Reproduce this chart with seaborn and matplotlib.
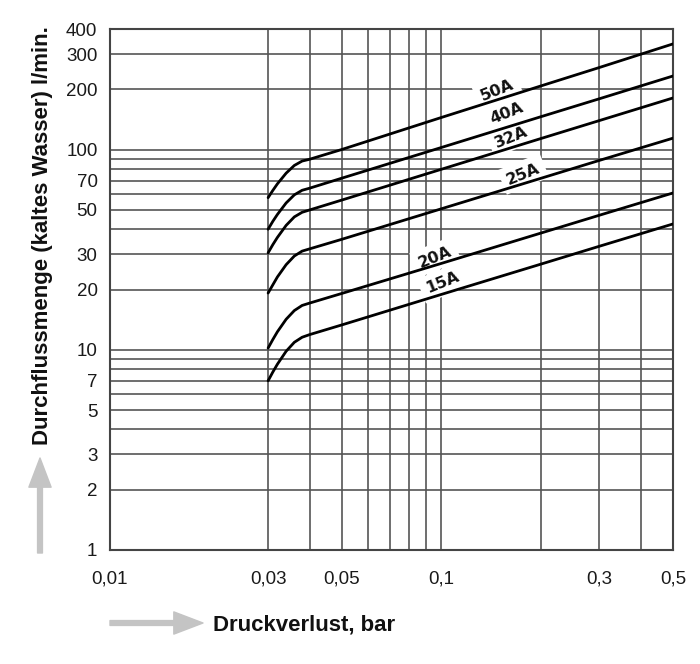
import numpy as np
import pandas as pd
import matplotlib
matplotlib.use("Agg")
import matplotlib.pyplot as plt
import seaborn as sns
from matplotlib.ticker import FixedLocator, FixedFormatter, NullFormatter

# ---------------- data ----------------
pressure = [0.030, 0.031, 0.032, 0.034, 0.036, 0.038, 0.040, 0.05, 0.1, 0.2, 0.3, 0.5]
flow_50A = [57.5, 62.5, 67.4, 76.2, 83.3, 87.6, 89.4, 100.0, 144.6, 208.0, 257.0, 337.0]
flow_40A = [40.0, 43.8, 47.4, 54.1, 59.4, 62.6, 64.1, 71.9, 102.4, 146.0, 179.4, 233.0]
flow_32A = [30.5, 33.5, 36.4, 41.8, 46.1, 48.6, 49.9, 55.9, 79.7, 113.6, 139.6, 181.0]
flow_25A = [19.2, 21.1, 23.1, 26.6, 29.4, 31.1, 31.9, 35.6, 50.6, 71.9, 88.3, 114.0]
flow_20A = [10.2, 11.25, 12.3, 14.2, 15.7, 16.65, 17.1, 19.1, 27.0, 38.3, 47.0, 60.7]
flow_15A = [7.0, 7.74, 8.47, 9.83, 10.9, 11.55, 11.9, 13.3, 18.9, 26.8, 32.9, 42.5]

series_names = ["50A", "40A", "32A", "25A", "20A", "15A"]
series_values = [flow_50A, flow_40A, flow_32A, flow_25A, flow_20A, flow_15A]

x_tick_values = [0.01, 0.03, 0.05, 0.1, 0.3, 0.5]
x_tick_labels = ["0,01", "0,03", "0,05", "0,1", "0,3", "0,5"]
x_grid_values = [0.03, 0.04, 0.05, 0.06, 0.07, 0.08, 0.09, 0.1, 0.2, 0.3, 0.4]

y_tick_values = [1, 2, 3, 5, 7, 10, 20, 30, 50, 70, 100, 200, 300, 400]
y_tick_labels = ["1", "2", "3", "5", "7", "10", "20", "30", "50", "70", "100", "200", "300", "400"]
y_grid_values = [2, 3, 4, 5, 6, 7, 8, 9, 10, 20, 30, 40, 50, 60, 70, 80, 90, 100, 200, 300]

# label anchor positions (data coords) for curve names
label_x = [0.1475, 0.157, 0.1625, 0.1766, 0.0959, 0.1007]
label_y = [198.5, 152.3, 115.6, 75.5, 29.1, 21.6]

x_label = "Druckverlust, bar"
y_label = "Durchflussmenge (kaltes Wasser) l/min."

# ---------------- build long-form table ----------------
rows = []
for name, vals in zip(series_names, series_values):
    for p, q in zip(pressure, vals):
        rows.append({"Druckverlust": p, "Durchfluss": q, "Größe": name})
df = pd.DataFrame(rows)

sns.set_theme(style="white")
plt.rcParams["font.family"] = ["Liberation Sans", "DejaVu Sans"]

fig = plt.figure(figsize=(7.0, 6.64), dpi=100)
ax = fig.add_axes([110 / 700, 1 - 550 / 664, (673 - 110) / 700, (550 - 29) / 664])

sns.lineplot(data=df, x="Druckverlust", y="Durchfluss", hue="Größe",
             palette=["black"] * len(series_names), legend=False,
             linewidth=2.0, ax=ax, zorder=5, sort=False, estimator=None)

ax.set_xscale("log")
ax.set_yscale("log")
ax.set_xlim(0.01, 0.5)
ax.set_ylim(1, 400)

ax.xaxis.set_major_locator(FixedLocator(x_tick_values))
ax.xaxis.set_major_formatter(FixedFormatter(x_tick_labels))
ax.xaxis.set_minor_locator(FixedLocator(x_grid_values))
ax.xaxis.set_minor_formatter(NullFormatter())
ax.yaxis.set_major_locator(FixedLocator(y_tick_values))
ax.yaxis.set_major_formatter(FixedFormatter(y_tick_labels))
ax.yaxis.set_minor_locator(FixedLocator(y_grid_values))
ax.yaxis.set_minor_formatter(NullFormatter())

ax.grid(False)
for gx in x_grid_values:
    ax.axvline(gx, color="#555555", linewidth=1.2, zorder=1)
for gy in y_grid_values:
    ax.axhline(gy, color="#555555", linewidth=1.2, zorder=1)

ax.tick_params(axis="both", which="both", length=0)
ax.tick_params(axis="x", pad=15)
ax.tick_params(axis="y", pad=9)
for lab in ax.get_xticklabels() + ax.get_yticklabels():
    lab.set_fontsize(13.5)
    lab.set_color("#1a1a1a")

for s in ax.spines.values():
    s.set_visible(True)
    s.set_color("#444444")
    s.set_linewidth(1.5)

ax.set_xlabel("")
ax.set_ylabel("")

for name, lx, ly in zip(series_names, label_x, label_y):
    ax.text(lx, ly, name, rotation=22, ha="center", va="center",
            fontsize=11.5, fontweight="bold", color="#111111", zorder=4,
            family=["DejaVu Sans"],
            bbox=dict(facecolor="white", edgecolor="none", pad=4))

# axis titles
fig.text(43 / 700, 1 - 236 / 664, y_label, rotation=90, ha="center", va="center",
         fontsize=16, fontweight="bold", color="#111111")
fig.text(213 / 700, 1 - 625 / 664, x_label, ha="left", va="center",
         fontsize=16, fontweight="bold", color="#111111")

# gray arrows
arrow_kw = dict(arrowstyle="simple,head_length=2.1,head_width=1.6,tail_width=0.35",
                mutation_scale=10, color="#c4c4c4", shrinkA=0, shrinkB=0)
fig.add_artist(matplotlib.patches.FancyArrowPatch(
    (40 / 700, 1 - 553 / 664), (40 / 700, 1 - 458 / 664),
    transform=fig.transFigure, **arrow_kw))
fig.add_artist(matplotlib.patches.FancyArrowPatch(
    (110 / 700, 1 - 623 / 664), (203 / 700, 1 - 623 / 664),
    transform=fig.transFigure, **arrow_kw))

fig.savefig("out.png", dpi=100)
